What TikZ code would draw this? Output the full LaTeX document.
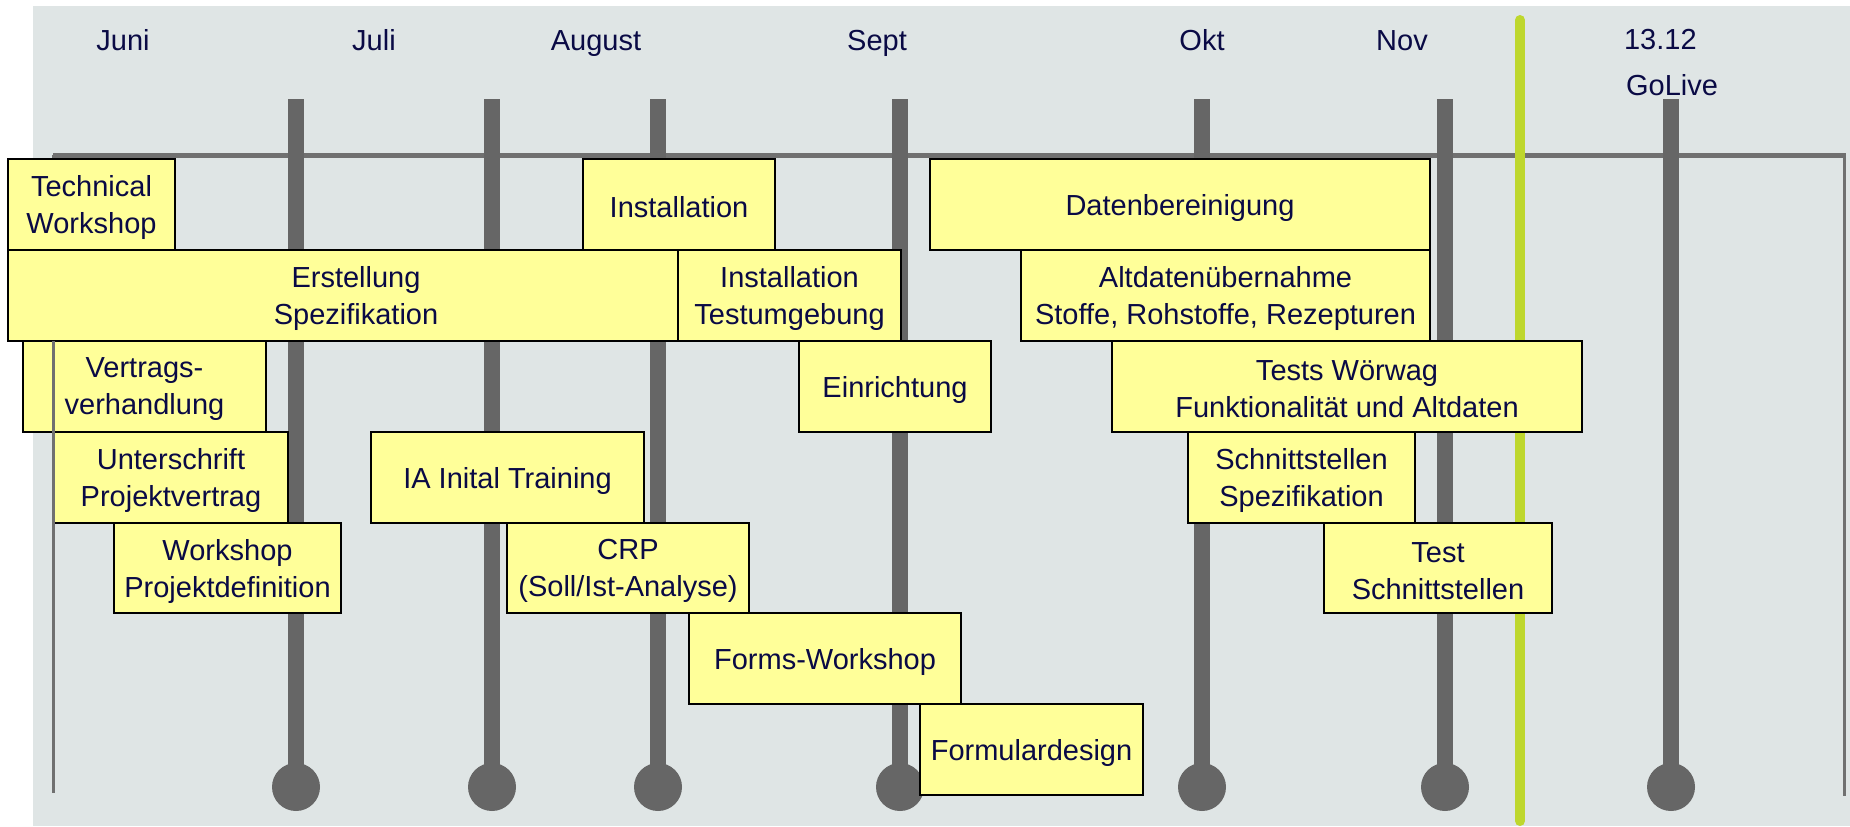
\documentclass[tikz,border=0pt]{standalone}
\usepackage{fontspec}
\setmainfont{Liberation Sans}
\usepackage{xcolor}
\usepackage{tikz}
\usetikzlibrary{calc}
\definecolor{bg}{HTML}{DFE5E5}
\definecolor{pole}{HTML}{666666}
\definecolor{rule}{HTML}{707070}
\definecolor{golive}{HTML}{BED72D}
\definecolor{task}{HTML}{FFFF99}
\definecolor{ink}{HTML}{0A0A45}

% box from (left,top) to (right,bottom) in pixel units, text a bit below centre
\newcommand{\planbox}[6]{%
  \draw[Task box] (#2,#3) rectangle (#4,#5);
  \node[Task text] (#1) at ({(#2+#4)/2},{(#3+#5)/2+3}) {#6};}

\begin{document}
\begin{tikzpicture}
    [x=0.5pt, y=-0.5pt,
     Task box/.style={draw=black, line width=1pt, fill=task},
     Task text/.style={text=ink, align=center, inner sep=0pt,
                       font=\fontsize{14.5}{18.5}\selectfont},
     Month/.style={text=ink, anchor=base, font=\fontsize{14.5}{18.5}\selectfont},
     Month pole/.style={line width=8pt, color=pole}
    ]
\useasboundingbox (0,0) rectangle (1850,826);
%background and frame lines
\fill[bg] (33,6) rectangle (1850,826);
\draw[rule, line width=2.5pt] (53,155) -- (1846,155);
\draw[rule, line width=1.5pt] (1844,155) -- (1844,796);
\draw[rule, line width=1.5pt] (53,155) -- (53,341);

%month poles
\foreach \x in {296,492,658,900,1202,1445,1671}
  {\draw[Month pole] (\x,99) -- (\x,787);
   \fill[pole] (\x,787) circle (12pt);}

%month labels
\node[Month] (juni) at (123,50) {Juni};
\node[Month] (juli) at (374,50) {Juli};
\node[Month] (aug) at (596,50) {August};
\node[Month] (sept) at (877,50) {Sept};
\node[Month] (okt) at (1202,50) {Okt};
\node[Month] (nov) at (1402,50) {Nov};
\node[Month, anchor=base west] (dez) at (1617,49) {13.12};
\node[Month, anchor=base west] (golive) at (1619,95) {GoLive};

%today marker
\draw[golive, line width=5pt, line cap=round] (1520,20) -- (1520,821);

%tasks
\planbox{techws}{8}{159}{175}{250}{Technical\\Workshop}
\planbox{inst}{583}{159}{775}{250}{Installation}
\planbox{daten}{930}{159}{1430}{250}{Datenbereinigung}
\planbox{spez}{8}{250}{704}{341}{Erstellung\\Spezifikation}
\planbox{insttest}{678}{250}{901}{341}{Installation\\Testumgebung}
\planbox{altdaten}{1021}{250}{1430}{341}{Altdatenübernahme\\Stoffe, Rohstoffe, Rezepturen}
\planbox{vertrag}{23}{341}{266}{432}{Vertrags-\\verhandlung}
\planbox{einr}{799}{341}{991}{432}{Einrichtung}
\planbox{tests}{1112}{341}{1582}{432}{Tests Wörwag\\Funktionalität und Altdaten}
\planbox{unterschr}{54}{432}{288}{523}{Unterschrift\\Projektvertrag}
\planbox{iatrain}{371}{432}{644}{523}{IA Inital Training}
\planbox{schnittspez}{1188}{432}{1415}{523}{Schnittstellen\\Spezifikation}
\planbox{wsprojekt}{114}{523}{341}{613}{Workshop\\Projektdefinition}
\planbox{crp}{507}{523}{749}{613}{CRP\\(Soll/Ist-Analyse)}
\planbox{testschnitt}{1324}{523}{1552}{613}{Test\\Schnittstellen}
\planbox{forms}{689}{613}{961}{704}{Forms-Workshop}
\planbox{formular}{920}{704}{1143}{795}{Formulardesign}

%left frame line, over the lower boxes
\draw[rule, line width=1.5pt] (53,341) -- (53,793);
\end{tikzpicture}
\end{document}
